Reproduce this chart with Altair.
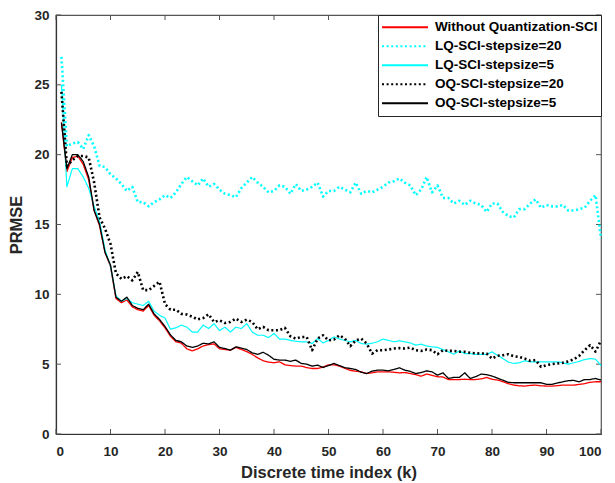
import altair as alt
import pandas as pd

k = list(range(1, 101))

series_names = [
    "Without Quantization-SCI",
    "LQ-SCI-stepsize=20",
    "LQ-SCI-stepsize=5",
    "OQ-SCI-stepsize=20",
    "OQ-SCI-stepsize=5",
]

red = [22.3, 18.8, 19.8, 19.9, 19.3, 18.2, 16.0, 14.9, 13.0, 12.0,
       9.7, 9.4, 9.6, 9.1, 8.9, 8.8, 9.2, 8.5, 8.1, 7.6,
       7.0, 6.6, 6.5, 6.1, 5.95, 6.1, 6.3, 6.4, 6.45, 6.1,
       6.05, 6.0, 6.2, 6.05, 5.9, 5.7, 5.45, 5.25, 5.15, 5.1,
       5.17, 4.95, 4.9, 4.86, 4.86, 4.75, 4.69, 4.69, 4.8, 4.95,
       4.95, 4.86, 4.7, 4.55, 4.5, 4.45, 4.33, 4.38, 4.45, 4.45,
       4.45, 4.42, 4.38, 4.4, 4.33, 4.25, 4.14, 4.29, 4.2, 4.1,
       4.08, 3.9, 3.9, 3.9, 3.92, 3.9, 3.9, 3.95, 4.05, 3.92,
       3.86, 3.75, 3.6, 3.5, 3.45, 3.43, 3.48, 3.5, 3.45, 3.43,
       3.43, 3.46, 3.5, 3.5, 3.5, 3.55, 3.6, 3.7, 3.74, 3.74]

lq20 = [27.0, 20.6, 20.8, 20.9, 20.4, 21.4, 20.6, 19.2, 19.1, 18.6,
        18.3, 17.9, 17.4, 17.7, 16.6, 16.6, 16.3, 16.6, 16.8, 17.1,
        16.9, 17.3, 17.9, 18.4, 18.1, 17.8, 18.3, 17.7, 17.9, 17.5,
        17.2, 17.1, 16.95, 17.6, 18.0, 18.4, 18.0, 17.7, 17.3, 17.4,
        17.8, 17.7, 17.2, 17.9, 17.4, 17.5, 17.7, 18.0, 17.0, 17.4,
        17.4, 17.7, 17.5, 17.3, 18.0, 17.2, 17.4, 17.3, 17.5, 17.7,
        18.0, 18.1, 18.3, 18.0, 17.8, 17.1, 17.5, 18.4, 17.3, 17.8,
        16.9, 16.9, 16.5, 16.7, 16.4, 16.7, 16.5, 16.4, 15.9, 16.5,
        16.5, 15.9, 15.6, 15.5, 16.1, 16.1, 16.5, 16.8, 16.2, 16.4,
        16.3, 16.3, 16.4, 16.0, 16.0, 16.1, 16.2, 16.7, 17.1, 14.0]

lq5 = [25.0, 17.7, 19.0, 19.0, 18.4, 17.6, 16.3, 15.2, 13.2, 12.0,
       9.9, 9.5, 9.7, 9.4, 9.3, 9.2, 9.5, 8.8, 8.5, 8.3,
       7.5, 7.6, 7.8, 7.65, 7.3, 7.3, 7.8, 7.55, 7.9, 7.4,
       7.65, 7.3, 7.65, 7.55, 7.9, 7.3, 7.07, 7.07, 6.9, 7.2,
       6.8, 6.8, 6.7, 6.64, 6.6, 6.6, 6.48, 6.84, 6.52, 6.7,
       6.95, 6.8, 6.7, 6.6, 6.7, 6.48, 6.43, 6.5, 6.6, 6.8,
       6.7, 6.6, 6.67, 6.6, 6.52, 6.36, 6.43, 6.3, 6.24, 6.2,
       6.05, 5.88, 5.71, 5.95, 5.76, 5.76, 5.7, 5.7, 5.7, 5.88,
       5.64, 5.4, 5.15, 5.05, 5.1, 5.24, 5.17, 5.17, 5.17, 5.17,
       5.17, 5.17, 5.1, 5.0, 5.1, 5.2, 5.33, 5.4, 5.36, 4.9]

oq20 = [24.5, 19.2, 19.6, 19.9, 19.9, 19.8, 18.0, 15.5, 14.7, 13.6,
        11.5, 11.1, 11.3, 11.0, 11.6, 10.3, 10.3, 10.6, 10.9, 9.3,
        8.9, 8.9, 8.6, 8.55, 8.4, 8.2, 8.3, 8.57, 8.02, 8.14,
        7.95, 8.02, 8.26, 8.02, 8.19, 8.02, 7.5, 7.67, 7.43, 7.43,
        7.43, 7.6, 7.0, 6.83, 6.95, 6.95, 6.0, 6.83, 7.07, 6.7,
        6.76, 7.07, 6.83, 6.29, 6.7, 6.83, 6.48, 5.76, 6.0, 6.0,
        6.05, 6.12, 6.15, 6.12, 6.19, 6.0, 5.95, 6.05, 6.0, 5.71,
        6.0, 5.95, 5.95, 5.9, 5.88, 5.81, 5.78, 5.76, 5.76, 5.4,
        5.6, 5.64, 5.71, 5.57, 5.52, 5.4, 5.24, 5.29, 4.81, 4.93,
        5.0, 5.05, 5.1, 5.2, 5.35, 5.6, 6.0, 6.36, 5.9, 6.7]

oq5 = [22.3, 19.0, 20.0, 20.0, 19.5, 18.4, 16.0, 15.0, 13.0, 12.1,
       9.8, 9.5, 9.8, 9.2, 9.0, 8.9, 9.3, 8.6, 8.2, 7.7,
       7.1, 6.7, 6.6, 6.3, 6.2, 6.3, 6.5, 6.45, 6.6, 6.2,
       6.12, 6.0, 6.24, 6.15, 6.05, 5.81, 5.7, 5.85, 5.64, 5.35,
       5.29, 5.29, 5.2, 5.29, 5.05, 5.0, 4.86, 4.93, 4.76, 4.9,
       5.05, 4.9, 4.75, 4.69, 4.62, 4.42, 4.33, 4.5, 4.57, 4.57,
       4.52, 4.62, 4.74, 4.57, 4.48, 4.33, 4.4, 4.52, 4.45, 4.21,
       4.38, 3.98, 4.05, 4.05, 4.38, 3.98, 4.1, 4.29, 4.25, 4.15,
       4.0, 3.85, 3.7, 3.67, 3.67, 3.67, 3.67, 3.67, 3.67, 3.55,
       3.55, 3.65, 3.74, 3.82, 3.84, 3.74, 3.9, 3.9, 3.98, 3.86]

x_ticks = [0, 10, 20, 30, 40, 50, 60, 70, 80, 90, 100]
y_ticks = [0, 5, 10, 15, 20, 25, 30]

colors = ["#ff0000", "#00ffff", "#00ffff", "#000000", "#000000"]
dashes = [[1, 0], [2, 2.6], [1, 0], [2, 2.6], [1, 0]]
widths = [1.3, 2.6, 1.2, 2.6, 1.3]

rows = []
for name, vals, w in zip(series_names, [red, lq20, lq5, oq20, oq5], widths):
    for kk, v in zip(k, vals):
        rows.append({"k": kk, "PRMSE": v, "series": name, "w": w})
df = pd.DataFrame(rows)

W, H = 545, 419
FONT = "Liberation Sans"
TICK_COLOR = "#555555"

x_enc = alt.X("k:Q", scale=alt.Scale(domain=[0, 100], nice=False, zero=False),
              axis=alt.Axis(values=x_ticks, title="Discrete time index (k)", ticks=False,
                            grid=False, labelPadding=10, titlePadding=7, format="d"))
y_enc = alt.Y("PRMSE:Q", scale=alt.Scale(domain=[0, 30], nice=False),
              axis=alt.Axis(values=y_ticks, title="PRMSE", ticks=False, grid=False,
                            labelPadding=7, titlePadding=9, format="d"))

lines = alt.Chart(df).mark_line(strokeCap="butt", strokeJoin="round").encode(
    x=x_enc,
    y=y_enc,
    color=alt.Color("series:N", scale=alt.Scale(domain=series_names, range=colors),
                    legend=alt.Legend(title=None)),
    strokeDash=alt.StrokeDash("series:N", scale=alt.Scale(domain=series_names, range=dashes),
                              legend=alt.Legend(title=None)),
    strokeWidth=alt.StrokeWidth("w:Q", scale=None),
)

xt = pd.DataFrame({"k": x_ticks})
yt = pd.DataFrame({"PRMSE": y_ticks})

xtick_bottom = alt.Chart(xt).mark_rule(color=TICK_COLOR, strokeWidth=1).encode(
    x=x_enc, y=alt.value(H), y2=alt.value(H - 5))
xtick_top = alt.Chart(xt).mark_rule(color=TICK_COLOR, strokeWidth=1).encode(
    x=x_enc, y=alt.value(0), y2=alt.value(5))
ytick_left = alt.Chart(yt).mark_rule(color=TICK_COLOR, strokeWidth=1).encode(
    y=y_enc, x=alt.value(0), x2=alt.value(5))
ytick_right = alt.Chart(yt).mark_rule(color=TICK_COLOR, strokeWidth=1).encode(
    y=y_enc, x=alt.value(W), x2=alt.value(W - 5))

chart = alt.layer(xtick_bottom, xtick_top, ytick_left, ytick_right, lines).properties(
    width=W, height=H,
    autosize=alt.AutoSizeParams(type="none"),
    padding={"left": 48, "top": 7, "right": 6, "bottom": 49},
).configure_view(
    stroke="#555555", strokeWidth=1.2
).configure_axis(
    domainColor="#333333", domainWidth=1.2,
    labelFont=FONT, labelFontWeight="bold", labelFontSize=13.5, labelColor="#262626",
    titleFont=FONT, titleFontWeight="bold", titleFontSize=16.5, titleColor="#262626",
).configure_legend(
    orient="top-right", offset=0, strokeColor="#262626", fillColor="white",
    padding=3, labelFont=FONT, labelFontWeight="bold", labelFontSize=13.5,
    labelColor="#000000", symbolType="stroke", symbolSize=2116, clipHeight=18.5,
    rowPadding=0, labelOffset=6, labelLimit=400, cornerRadius=0,
    symbolStrokeWidth=2,
)

chart.save("out.html", embed_options={"renderer": "svg", "actions": False})
